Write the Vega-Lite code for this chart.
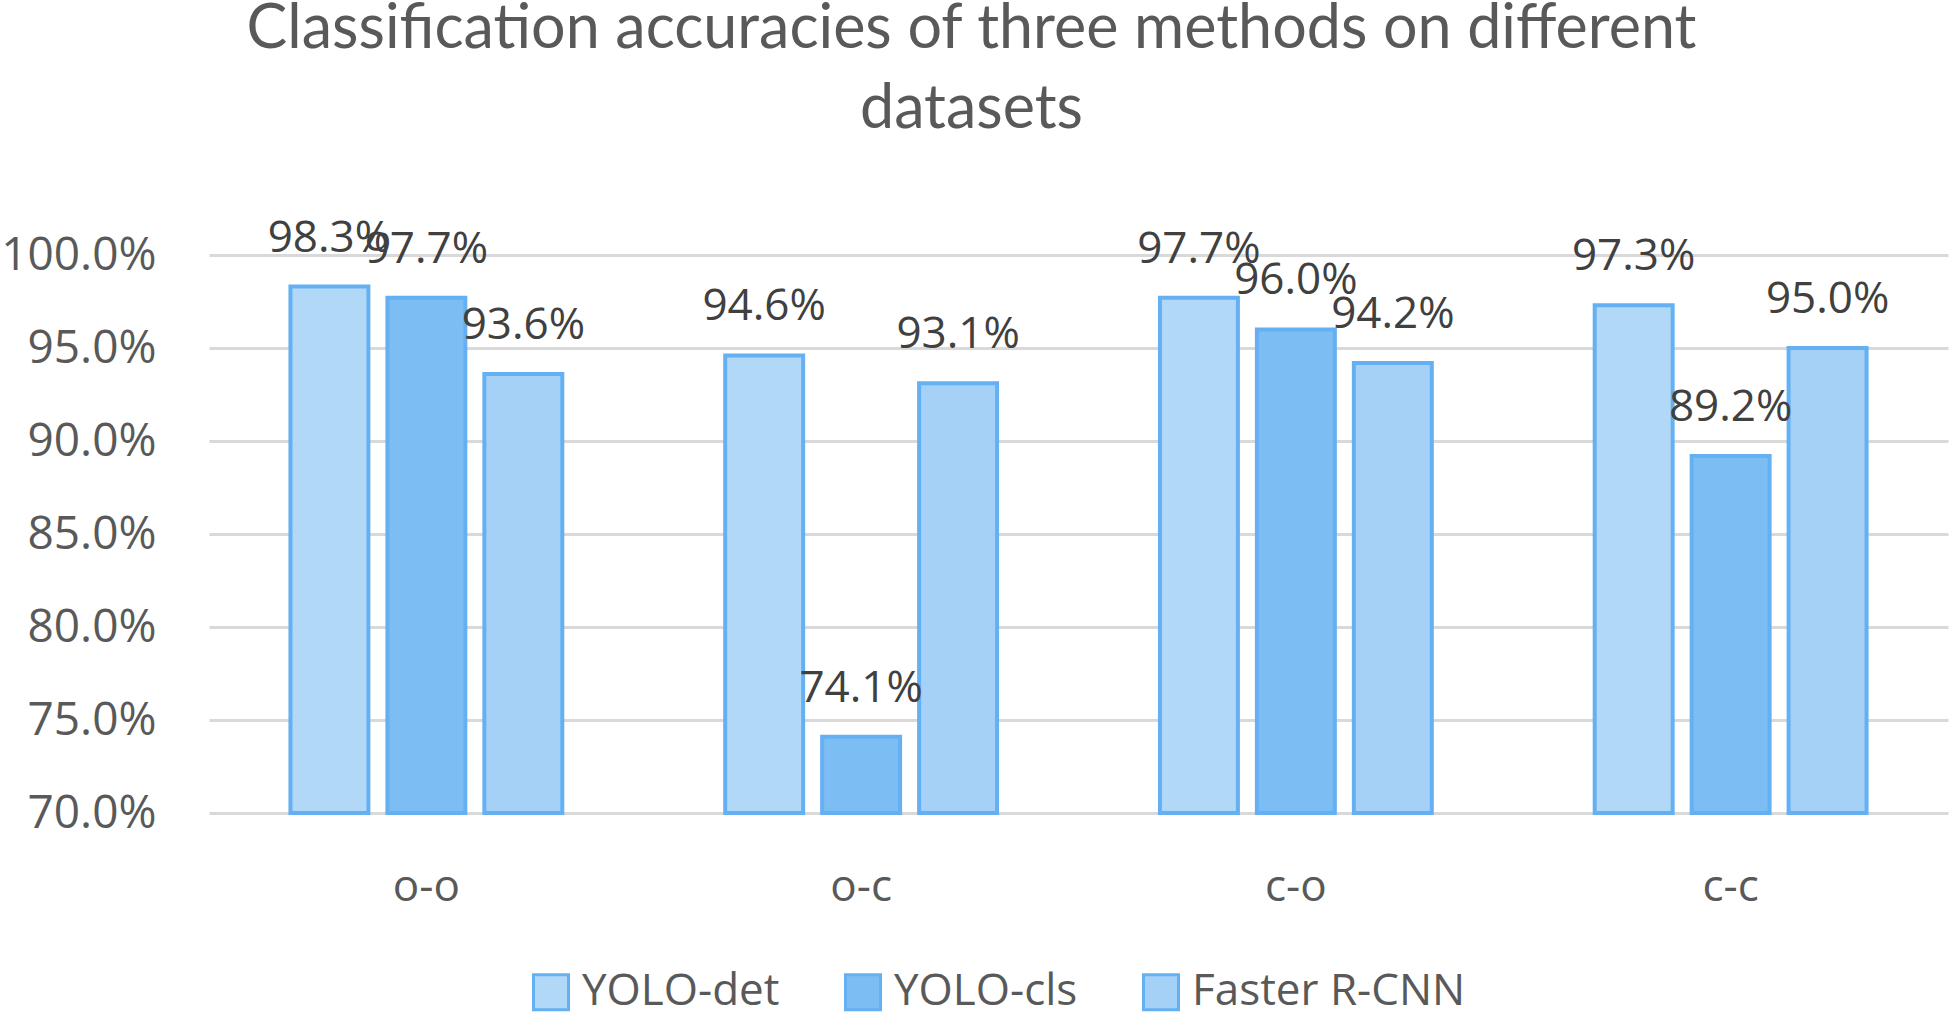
{
  "$schema": "https://vega.github.io/schema/vega-lite/v6.json",
  "width": 1739,
  "height": 558,
  "autosize": {"type": "none"},
  "padding": {"left": 209, "top": 255, "right": 4, "bottom": 206},
  "background": "white",
  "title": {
    "text": ["Classification accuracies of three methods on different", "datasets"],
    "anchor": "middle",
    "dx": -107,
    "offset": 76,
    "font": "Lato",
    "fontSize": 61,
    "fontWeight": "normal",
    "color": "#595959",
    "lineHeight": 80
  },
  "data": {
    "values": [
      {"dataset": "o-o", "method": "YOLO-det", "acc": 0.983},
      {"dataset": "o-o", "method": "YOLO-cls", "acc": 0.977},
      {"dataset": "o-o", "method": "Faster R-CNN", "acc": 0.936},
      {"dataset": "o-c", "method": "YOLO-det", "acc": 0.946},
      {"dataset": "o-c", "method": "YOLO-cls", "acc": 0.741},
      {"dataset": "o-c", "method": "Faster R-CNN", "acc": 0.931},
      {"dataset": "c-o", "method": "YOLO-det", "acc": 0.977},
      {"dataset": "c-o", "method": "YOLO-cls", "acc": 0.960},
      {"dataset": "c-o", "method": "Faster R-CNN", "acc": 0.942},
      {"dataset": "c-c", "method": "YOLO-det", "acc": 0.973},
      {"dataset": "c-c", "method": "YOLO-cls", "acc": 0.892},
      {"dataset": "c-c", "method": "Faster R-CNN", "acc": 0.950}
    ]
  },
  "encoding": {
    "x": {
      "field": "dataset",
      "type": "nominal",
      "sort": ["o-o", "o-c", "c-o", "c-c"],
      "scale": {"paddingInner": 0, "paddingOuter": 0},
      "axis": {
        "title": null,
        "labelAngle": 0,
        "domain": false,
        "ticks": false,
        "labelPadding": 52,
        "labelFontSize": 44,
        "labelFont": "Open Sans",
        "labelColor": "#595959"
      }
    },
    "xOffset": {
      "field": "method",
      "type": "nominal",
      "sort": ["YOLO-det", "YOLO-cls", "Faster R-CNN"],
      "scale": {"paddingInner": 0.196, "paddingOuter": 0.84}
    },
    "y": {
      "field": "acc",
      "type": "quantitative",
      "scale": {"domain": [0.7, 1.0], "zero": false, "nice": false},
      "axis": {
        "title": null,
        "format": ".1%",
        "values": [0.7, 0.75, 0.8, 0.85, 0.9, 0.95, 1.0],
        "domain": false,
        "ticks": false,
        "labelPadding": 53,
        "labelFontSize": 46,
        "labelFont": "Open Sans",
        "labelColor": "#595959",
        "grid": true,
        "gridColor": "#d9d9d9",
        "gridWidth": 3
      }
    }
  },
  "layer": [
    {
      "mark": {"type": "bar", "stroke": "#65b0f2", "strokeWidth": 4, "clip": false},
      "encoding": {
        "y2": {"datum": 0.7},
        "fill": {
          "field": "method",
          "type": "nominal",
          "sort": ["YOLO-det", "YOLO-cls", "Faster R-CNN"],
          "scale": {"range": ["#b2d8f8", "#7cbdf4", "#a6d1f7"]},
          "legend": {
            "title": null,
            "orient": "none",
            "legendX": 320,
            "legendY": 715,
            "direction": "horizontal",
            "symbolType": "square",
            "symbolSize": 1225,
            "symbolStrokeColor": "#65b0f2",
            "symbolStrokeWidth": 3,
            "labelFontSize": 44,
            "labelFont": "Open Sans",
            "labelColor": "#595959",
            "labelOffset": 9,
            "columnPadding": 59,
            "labelLimit": 400
          }
        }
      }
    },
    {
      "mark": {
        "type": "text",
        "baseline": "bottom",
        "dy": -26,
        "font": "Open Sans",
        "fontSize": 44,
        "color": "#404040"
      },
      "encoding": {
        "text": {"field": "acc", "type": "quantitative", "format": ".1%"}
      }
    }
  ],
  "config": {
    "view": {"stroke": null}
  }
}
